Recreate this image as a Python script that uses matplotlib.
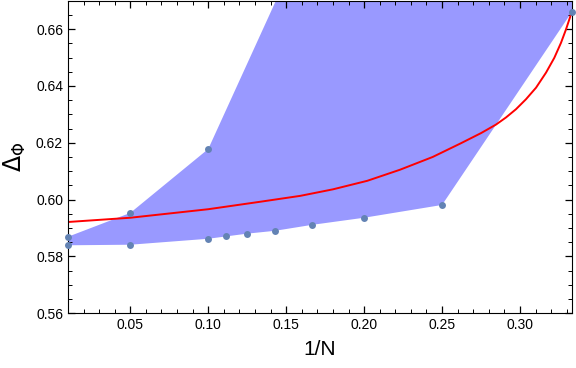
import matplotlib.pyplot as plt
from matplotlib.ticker import MultipleLocator

# datos
x_inf = [0.01, 0.05, 0.10, 1/9, 1/8, 1/7, 1/6, 1/5, 1/4, 1/3]
y_inf = [0.5839, 0.5841, 0.5862, 0.5870, 0.5880, 0.5890, 0.5911, 0.5936, 0.5981, 0.6661]

x_sup = [0.01, 0.05, 0.10, 1/6, 1/3]
y_sup = [0.5869, 0.5953, 0.6178, 0.698, 0.80]

# curva roja (ajuste)
x_fit = [0.01, 0.05, 0.10, 0.133, 0.159, 0.180, 0.202, 0.223, 0.244, 0.262, 0.275,
         0.2846, 0.2910, 0.2974, 0.3038, 0.3103, 0.3167, 0.3220, 0.3263, 0.3295, 0.3321, 0.3333]
y_fit = [0.5921, 0.5936, 0.5966, 0.5992, 0.6013, 0.6036, 0.6066, 0.6105, 0.6150, 0.6198, 0.6234,
         0.6264, 0.6289, 0.6318, 0.6353, 0.6394, 0.6447, 0.6499, 0.6552, 0.6599, 0.6642, 0.6665]

plt.rcParams['font.family'] = ['Liberation Sans', 'DejaVu Sans']
plt.rcParams['mathtext.fontset'] = 'dejavusans'

fig = plt.figure(figsize=(5.76, 3.68), dpi=100)
ax = fig.add_axes([0.118, 0.149, 0.875, 0.849])

ax.set_xlim(0.01, 1/3)
ax.set_ylim(0.56, 0.67)

# region sombreada entre las dos curvas
ax.fill(x_inf + x_sup[::-1], y_inf + y_sup[::-1], color='#9999ff', lw=0, zorder=1)
ax.plot(x_fit, y_fit, color='red', lw=1.4, zorder=2)

# solo los puntos que caen dentro del rango visible
xs = [x for x, y in zip(x_inf + x_sup, y_inf + y_sup) if y <= 0.67]
ys = [y for y in y_inf + y_sup if y <= 0.67]
ax.plot(xs, ys, 'o', color='#6383b4', ms=5, mec='none', zorder=3, clip_on=False)

ax.xaxis.set_minor_locator(MultipleLocator(0.01))
ax.yaxis.set_minor_locator(MultipleLocator(0.005))
ax.set_xticks([0.05, 0.10, 0.15, 0.20, 0.25, 0.30])
ax.set_xticklabels(['0.05', '0.10', '0.15', '0.20', '0.25', '0.30'])
ax.set_yticks([0.56, 0.58, 0.60, 0.62, 0.64, 0.66])
ax.set_yticklabels(['0.56', '0.58', '0.60', '0.62', '0.64', '0.66'])
ax.tick_params(which='both', direction='in', top=True, right=True, labelsize=10)
ax.tick_params(which='major', length=5, width=0.9)
ax.tick_params(which='minor', length=2.8, width=0.7)

ax.set_xlabel('1/N', fontsize=15, labelpad=6)
ax.set_ylabel(r'$\Delta_\Phi$', fontsize=17, labelpad=6)

fig.savefig('out.png', dpi=100)
